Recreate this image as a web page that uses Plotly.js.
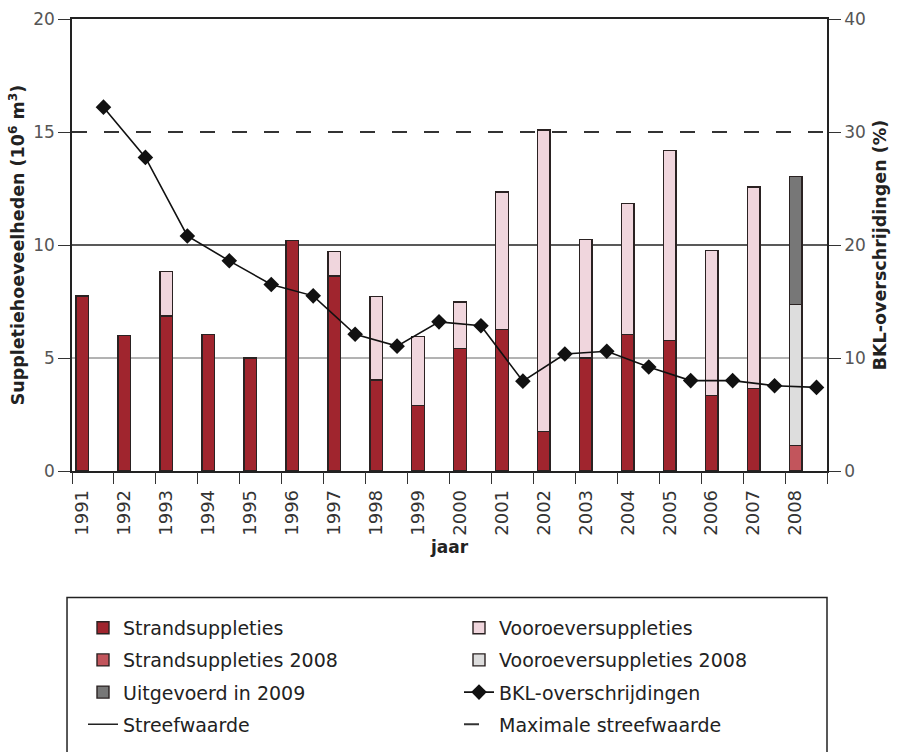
<!DOCTYPE html>
<html><head><meta charset="utf-8">
<script src="https://cdn.plot.ly/plotly-3.0.1.min.js"></script>
<style>html,body{margin:0;padding:0;background:#fff}#chart{width:907px;height:752px}</style>
</head><body><div id="chart"></div>
<script>
// ---- data ----
const years = ['1991','1992','1993','1994','1995','1996','1997','1998','1999','2000','2001','2002','2003','2004','2005','2006','2007','2008'];
const strandsuppleties = [7.75, 6.0, 6.85, 6.05, 5.0, 10.2, 8.62, 4.02, 2.91, 5.41, 6.26, 1.76, 5.0, 6.04, 5.77, 3.34, 3.64, null];
const strandsuppleties2008 = [null,null,null,null,null,null,null,null,null,null,null,null,null,null,null,null,null, 1.14];
const vooroeversuppleties = [null, null, 1.99, null, null, null, 1.08, 3.71, 3.03, 2.06, 6.08, 13.32, 5.24, 5.8, 8.42, 6.43, 8.93, null];
const vooroeversuppleties2008 = [null,null,null,null,null,null,null,null,null,null,null,null,null,null,null,null,null, 6.23];
const uitgevoerd2009 = [null,null,null,null,null,null,null,null,null,null,null,null,null,null,null,null,null, 5.67];
const bklOverschrijdingen = [32.2, 27.75, 20.8, 18.6, 16.5, 15.5, 12.1, 11.05, 13.2, 12.85, 7.95, 10.35, 10.6, 9.2, 8.0, 8.0, 7.55, 7.4];
const streefwaarde = 10;
const maximaleStreefwaarde = 15;
const hulplijn = 5;
const leftTicks = [0, 5, 10, 15, 20];
const rightTicks = [0, 10, 20, 30, 40];

// ---- derived positions (category index scale) ----
const idx = years.map((_, i) => i);
const bklX = idx.map(i => i + 0.5);
const sepTicks = years.concat(['end']).map((_, i) => i - 0.25);

const FONT = 'DejaVu Sans, Liberation Sans, Arial, sans-serif';
const OUTLINE = {color: '#2a2222', width: 1.4};
const BW = 0.3;

function barTrace(name, y, color, legend, group, rank) {
  return {type: 'bar', name: name, x: idx, y: y, width: BW,
    marker: {color: color, line: OUTLINE},
    legend: legend, legendgroup: group, legendrank: rank, hoverinfo: 'name+y'};
}

const traces = [
  barTrace('Strandsuppleties', strandsuppleties, '#a0252e', 'legend', 'a', 1),
  barTrace('Strandsuppleties 2008', strandsuppleties2008, '#c2555c', 'legend', 'b', 2),
  barTrace('Vooroeversuppleties', vooroeversuppleties, '#f0d6dd', 'legend2', 'e', 1),
  barTrace('Vooroeversuppleties 2008', vooroeversuppleties2008, '#dddddd', 'legend2', 'f', 2),
  barTrace('Uitgevoerd in 2009', uitgevoerd2009, '#777777', 'legend', 'c', 3),
  {type: 'scatter', mode: 'lines+markers', name: 'BKL-overschrijdingen',
   x: bklX, y: bklOverschrijdingen, xaxis: 'x2', yaxis: 'y2',
   line: {color: '#111', width: 1.6},
   marker: {symbol: 'diamond', size: 12, color: '#111'},
   cliponaxis: false, legend: 'legend2', legendgroup: 'g', legendrank: 3}
];

const legendBase = {xanchor: 'left', yanchor: 'top', y: -0.305, orientation: 'v',
  bgcolor: 'rgba(0,0,0,0)', borderwidth: 0, tracegroupgap: 4.5, traceorder: 'grouped',
  font: {family: FONT, size: 19, color: '#222'}, itemclick: false, itemdoubleclick: false};

const layout = {
  width: 907, height: 752,
  margin: {l: 72, r: 80, t: 19, b: 280.5, autoexpand: false},
  paper_bgcolor: '#fff', plot_bgcolor: '#fff',
  barmode: 'stack',
  font: {family: FONT, color: '#333'},
  showlegend: true,
  legend: Object.assign({}, legendBase, {x: (83 - 72) / 755}),
  legend2: Object.assign({}, legendBase, {x: (459 - 72) / 755}),
  xaxis: {range: [-0.25, 17.75], tickmode: 'array', tickvals: idx, ticktext: years,
    tickangle: -90, ticks: '', ticklabelstandoff: 10, showline: true, mirror: true, linecolor: '#222', linewidth: 1.5,
    showgrid: false, zeroline: false, tickfont: {size: 18, color: '#333'},
    title: {text: '<b>jaar</b>', font: {size: 17, color: '#222'}, standoff: 6}},
  xaxis2: {overlaying: 'x', anchor: 'y', side: 'bottom', range: [-0.25, 17.75],
    tickmode: 'array', tickvals: sepTicks, ticks: 'outside', ticklen: 12, tickwidth: 1.2, tickcolor: '#333',
    showticklabels: false, showgrid: false, zeroline: false, showline: false},
  yaxis: {range: [0, 20], tickmode: 'array', tickvals: leftTicks, ticks: 'outside', ticklen: 12,
    tickwidth: 1.2, tickcolor: '#333', showline: true, linecolor: '#222', linewidth: 1.5,
    showgrid: false, zeroline: false, tickfont: {size: 17, color: '#555'},
    title: {text: '<b>Suppletiehoeveelheden (10<sup>6</sup> m<sup>3</sup>)</b>', font: {size: 17.5, color: '#222'}, standoff: 4}},
  yaxis2: {overlaying: 'y', side: 'right', anchor: 'x', range: [0, 40], tickmode: 'array', tickvals: rightTicks,
    ticks: 'outside', ticklen: 12, tickwidth: 1.2, tickcolor: '#333', showline: true, linecolor: '#222', linewidth: 1.5,
    showgrid: false, zeroline: false, tickfont: {size: 17, color: '#555'},
    title: {text: '<b>BKL-overschrijdingen (%)</b>', font: {size: 17.5, color: '#222'}, standoff: 9}},
  shapes: [
    {type: 'line', xref: 'paper', x0: 0, x1: 1, yref: 'y', y0: hulplijn, y1: hulplijn,
     line: {color: '#666', width: 1}, layer: 'below'},
    {type: 'line', xref: 'paper', x0: 0, x1: 1, yref: 'y', y0: streefwaarde, y1: streefwaarde,
     line: {color: '#222', width: 1.6}, layer: 'below',
     showlegend: true, name: 'Streefwaarde', legend: 'legend', legendgroup: 'd', legendrank: 4},
    {type: 'line', xref: 'paper', x0: 0, x1: 1, yref: 'y', y0: maximaleStreefwaarde, y1: maximaleStreefwaarde,
     line: {color: '#333', width: 2, dash: '15px,17px'}, layer: 'below',
     showlegend: true, name: 'Maximale streefwaarde', legend: 'legend2', legendgroup: 'h', legendrank: 4},
    {type: 'rect', xref: 'paper', yref: 'paper', x0: -0.0066, x1: 1.0, y0: -0.2796, y1: -0.72,
     line: {color: '#222', width: 1.5}, fillcolor: 'rgba(0,0,0,0)', layer: 'above'}
  ]
};

Plotly.newPlot('chart', traces, layout, {displayModeBar: false});
</script>
</body></html>
